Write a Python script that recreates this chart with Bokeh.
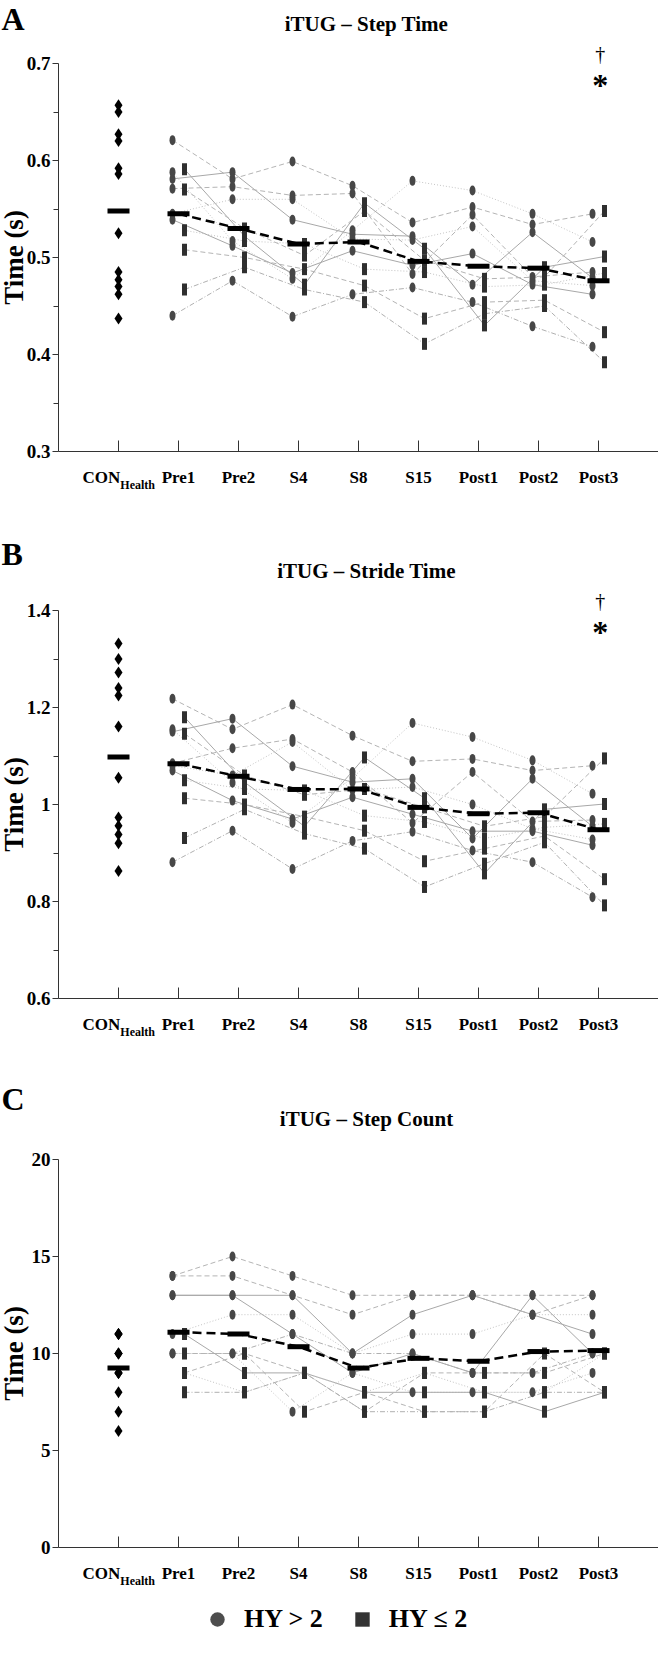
import math
from bokeh.plotting import figure
from bokeh.layouts import column
from bokeh.models import Range1d, FixedTicker, Label, Legend, LegendItem, LinearAxis
from bokeh.embed import file_html
from bokeh.resources import INLINE

# ---------------- data ----------------
categories = ["CON", "Pre1", "Pre2", "S4", "S8", "S15", "Post1", "Post2", "Post3"]
con_subscript = "Health"
legend_labels = ["HY > 2", "HY ≤ 2"]

# Panel A - step time (s)
step_con = [0.657, 0.650, 0.627, 0.620, 0.592, 0.586, 0.525, 0.485, 0.477, 0.470, 0.462, 0.437]
step_con_mean = 0.548
step_means = [0.545, 0.530, 0.514, 0.516, 0.496, 0.491, 0.489, 0.476]
step_hy_gt2 = [
    [0.621, 0.581, 0.599, 0.574, 0.536, 0.552, 0.534, 0.545],
    [0.581, 0.588, 0.539, 0.524, 0.522, 0.472, 0.526, 0.479],
    [0.571, 0.573, 0.564, 0.566, 0.483, 0.544, 0.480, 0.485],
    [0.545, 0.560, 0.560, 0.519, 0.518, 0.532, 0.476, 0.471],
    [0.539, 0.512, 0.484, 0.507, 0.492, 0.504, 0.472, 0.462],
    [0.440, 0.476, 0.439, 0.462, 0.469, 0.454, 0.429, 0.408],
    [0.588, 0.517, 0.478, 0.528, 0.579, 0.569, 0.545, 0.516],
]
step_hy_le2 = [
    [0.591, 0.522, 0.472, 0.556, 0.509, 0.430, 0.490, 0.501],
    [0.570, 0.530, 0.502, 0.548, 0.497, 0.478, 0.480, 0.548],
    [0.528, 0.517, 0.514, 0.488, 0.485, 0.470, 0.472, 0.484],
    [0.508, 0.500, 0.488, 0.471, 0.437, 0.454, 0.456, 0.423],
    [0.467, 0.490, 0.467, 0.454, 0.411, 0.442, 0.450, 0.392],
]
step_yticks = [0.3, 0.4, 0.5, 0.6, 0.7]
step_ylabels = ["0.3", "0.4", "0.5", "0.6", "0.7"]
step_yminor = [0.35, 0.45, 0.55, 0.65]

# Panel B - stride time (s)
stride_con = [1.332, 1.300, 1.272, 1.240, 1.225, 1.161, 1.055, 0.973, 0.956, 0.938, 0.920, 0.863]
stride_con_mean = 1.098
stride_means = [1.084, 1.058, 1.031, 1.032, 0.994, 0.981, 0.983, 0.948]
stride_hy_gt2 = [
    [1.218, 1.155, 1.206, 1.142, 1.089, 1.094, 1.070, 1.080],
    [1.150, 1.177, 1.079, 1.046, 1.053, 0.930, 1.053, 0.955],
    [1.085, 1.116, 1.135, 1.067, 0.962, 1.067, 0.965, 0.968],
    [1.080, 1.060, 1.129, 1.030, 1.036, 1.000, 0.950, 0.928],
    [1.070, 1.008, 0.970, 1.015, 0.980, 0.945, 0.945, 0.916],
    [0.881, 0.946, 0.867, 0.925, 0.944, 0.905, 0.881, 0.809],
    [1.155, 1.045, 0.962, 1.055, 1.168, 1.139, 1.091, 1.022],
]
stride_hy_le2 = [
    [1.180, 1.046, 0.955, 1.097, 1.013, 0.858, 0.990, 1.001],
    [1.146, 1.060, 1.020, 1.032, 0.994, 0.955, 0.975, 1.095],
    [1.050, 1.032, 1.029, 0.977, 0.964, 0.930, 0.953, 0.960],
    [1.013, 1.000, 0.975, 0.946, 0.883, 0.909, 0.935, 0.846],
    [0.931, 0.990, 0.940, 0.909, 0.830, 0.878, 0.922, 0.792],
]
stride_yticks = [0.6, 0.8, 1.0, 1.2, 1.4]
stride_ylabels = ["0.6", "0.8", "1", "1.2", "1.4"]
stride_yminor = [0.7, 0.9, 1.1, 1.3]

# Panel C - step count
count_con = [11, 11, 11, 10, 10, 10, 9, 9, 9, 8, 7, 6]
count_con_mean = 9.25
count_means = [11.1, 11.0, 10.35, 9.25, 9.75, 9.6, 10.1, 10.15]
count_hy_gt2 = [
    [14, 15, 14, 13, 13, 13, 13, 13],
    [13, 13, 13, 10, 12, 13, 12, 11],
    [14, 14, 13, 12, 13, 13, 12, 13],
    [11, 12, 12, 10, 11, 11, 12, 12],
    [13, 13, 11, 9, 10, 9, 13, 10],
    [10, 10, 11, 10, 10, 9, 9, 10],
    [10, 10, 7, 9, 8, 8, 8, 9],
]
count_hy_le2 = [
    [11, 9, 9, 8, 8, 8, 7, 8],
    [10, 10, 9, 7, 9, 9, 9, 10],
    [9, 8, 9, 8, 9, 8, 8, 10],
    [9, 10, 7, 8, 7, 7, 10, 8],
    [8, 8, 9, 7, 7, 7, 8, 8],
]
count_yticks = [0, 5, 10, 15, 20]
count_ylabels = ["0", "5", "10", "15", "20"]
count_yminor = []

# ---------------- styling / layout ----------------
FONT = "Liberation Serif"
FIG_W = 658          # page x 8 .. 666
PAGE_LEFT = 8
AXIS_X0 = 66         # page x of category position 0
PX_PER_CAT = 60
FRAME_H = 388
AXIS_COLOR = "#333333"
LINE_STYLE = {
    "solid": dict(line_color="#a8a8a8", line_dash="solid"),
    "dashed": dict(line_color="#b4b4b4", line_dash="5 3"),
    "dotted": dict(line_color="#c4c4c4", line_dash="1 2"),
    "dashdot": dict(line_color="#b0b0b0", line_dash="5 2 1 2"),
}
GT2_STYLES = ["dashed", "solid", "dashed", "dotted", "solid", "dashdot", "dotted"]
LE2_STYLES = ["solid", "dashed", "dotted", "dashed", "dashdot"]
CIRCLE_COLOR = "#474747"
SQUARE_COLOR = "#2f2f2f"


def build_panel(letter, title, con, con_mean, hy_gt2, hy_le2, means, ylim,
                yticks, ylabels, yminor, fig_top, fig_h, axis_top, letter_y,
                title_y, sig=False, legend=False):
    ppx = (ylim[1] - ylim[0]) / FRAME_H
    axis_bot = axis_top + FRAME_H

    def py(page_y):
        return ylim[1] - (page_y - axis_top) * ppx

    def px(page_x):
        return (page_x - AXIS_X0) / PX_PER_CAT

    p = figure(width=FIG_W, height=fig_h,
               x_range=Range1d(px(PAGE_LEFT), px(PAGE_LEFT + FIG_W)),
               y_range=Range1d(py(fig_top + fig_h), py(fig_top)),
               output_backend="svg", toolbar_location=None,
               x_axis_location=None, y_axis_location=None, min_border=0,
               min_border_left=0, min_border_right=0, min_border_top=0,
               min_border_bottom=0)
    p.outline_line_color = None
    p.grid.visible = False

    cat_x = list(range(1, len(categories) + 1))
    tpos = cat_x[1:]

    # individual patient trajectories
    for row, st in zip(hy_gt2, GT2_STYLES):
        p.line([t - 0.1 for t in tpos], row, line_width=1, **LINE_STYLE[st])
    for row, st in zip(hy_le2, LE2_STYLES):
        p.line([t + 0.1 for t in tpos], row, line_width=1, **LINE_STYLE[st])

    # markers
    cx, cy = [], []
    for row in hy_gt2:
        cx += [t - 0.1 for t in tpos]
        cy += row
    sx, sy = [], []
    for row in hy_le2:
        sx += [t + 0.1 for t in tpos]
        sy += row
    p.ellipse(x=cx, y=cy, width=6, height=10, width_units="screen",
              height_units="screen", fill_color=CIRCLE_COLOR, line_color=None)
    p.rect(x=sx, y=sy, width=5, height=12, width_units="screen",
           height_units="screen", fill_color=SQUARE_COLOR, line_color=None)
    p.scatter(x=[cat_x[0]] * len(con), y=con, marker="diamond", size=12,
              fill_color="black", line_color=None)

    # means
    p.line(tpos, means, line_color="black", line_width=2.5, line_dash="9 5")
    p.rect(x=cat_x, y=[con_mean] + means, width=22, height=5,
           width_units="screen", height_units="screen", fill_color="black",
           line_color=None)

    # axes (drawn at fixed data locations inside the canvas)
    xa = LinearAxis(fixed_location=ylim[0], bounds=(0, 10),
                    ticker=FixedTicker(ticks=list(range(1, 11))))
    overrides = {1: ""}
    for i, c in enumerate(categories[1:], start=2):
        overrides[i] = c
    overrides[10] = ""
    xa.major_label_overrides = overrides
    xa.major_tick_in = 11
    xa.major_tick_out = 0
    xa.minor_tick_line_color = None
    xa.major_label_standoff = 16
    xa.major_label_text_font = FONT
    xa.major_label_text_font_style = "bold"
    xa.major_label_text_font_size = "17px"
    xa.major_label_text_color = "black"
    xa.axis_line_color = AXIS_COLOR
    xa.major_tick_line_color = AXIS_COLOR
    p.add_layout(xa, "below")

    ya = LinearAxis(fixed_location=0, bounds=(ylim[0], ylim[1]),
                    ticker=FixedTicker(ticks=yticks, minor_ticks=yminor))
    ya.major_label_overrides = dict(zip(yticks, ylabels))
    ya.major_tick_out = 6
    ya.major_tick_in = 0
    ya.minor_tick_out = 5
    ya.minor_tick_in = 0
    ya.major_label_standoff = 2
    ya.major_label_text_font = FONT
    ya.major_label_text_font_style = "bold"
    ya.major_label_text_font_size = "19px"
    ya.major_label_text_color = "black"
    ya.axis_line_color = AXIS_COLOR
    ya.major_tick_line_color = AXIS_COLOR
    ya.minor_tick_line_color = AXIS_COLOR
    p.add_layout(ya, "left")

    # texts
    p.add_layout(Label(x=px(PAGE_LEFT + 1), y=py(letter_y), text=letter,
                       text_align="left", text_baseline="middle",
                       text_font=FONT, text_font_style="bold",
                       text_font_size="32px", text_color="black"))
    p.add_layout(Label(x=px(374), y=py(title_y), text=title,
                       text_align="center", text_baseline="middle",
                       text_font=FONT, text_font_style="bold",
                       text_font_size="21px", text_color="black"))
    p.add_layout(Label(x=px(21), y=(ylim[0] + ylim[1]) / 2, text="Time (s)",
                       angle=math.pi / 2, text_align="center",
                       text_baseline="middle", text_font=FONT,
                       text_font_style="bold", text_font_size="27px",
                       text_color="black"))
    p.add_layout(Label(x=1.03, y=py(axis_bot + 26), text=categories[0],
                       text_align="right", text_baseline="middle",
                       text_font=FONT, text_font_style="bold",
                       text_font_size="17px", text_color="black"))
    p.add_layout(Label(x=1.03, y=py(axis_bot + 33), text=con_subscript,
                       text_align="left", text_baseline="middle",
                       text_font=FONT, text_font_style="bold",
                       text_font_size="12px", text_color="black"))
    if sig:
        p.add_layout(Label(x=9.03, y=py(axis_top - 10), text="†",
                           text_align="center", text_baseline="middle",
                           text_font=FONT, text_font_size="20px",
                           text_color="black"))
        p.add_layout(Label(x=9.03, y=py(axis_top + 21), text="*",
                           text_align="center", text_baseline="middle",
                           text_font=FONT, text_font_style="bold",
                           text_font_size="32px", text_color="black"))
    if legend:
        # hidden renderers carrying the same points, used only for the key
        r1 = p.scatter(x=cx, y=cy, marker="circle", size=15,
                       fill_color="#4d4d4d", line_color=None, visible=False)
        r2 = p.scatter(x=sx, y=sy, marker="square", size=15,
                       fill_color="#333333", line_color=None, visible=False)
        lg = Legend(items=[LegendItem(label=legend_labels[0], renderers=[r1]),
                           LegendItem(label=legend_labels[1], renderers=[r2])],
                    orientation="horizontal", location=(199, 1),
                    glyph_width=36, glyph_height=36, label_standoff=9,
                    spacing=21, padding=0, margin=0,
                    border_line_color=None, background_fill_alpha=0,
                    inactive_fill_alpha=0,
                    label_text_font=FONT, label_text_font_style="bold",
                    label_text_font_size="26px", label_text_color="black")
        p.add_layout(lg)
    return p


pA = build_panel("A", "iTUG – Step Time", step_con, step_con_mean, step_hy_gt2,
                 step_hy_le2, step_means, (0.3, 0.7), step_yticks, step_ylabels,
                 step_yminor, 8, 492, 71, 26, 31, sig=True)
pB = build_panel("B", "iTUG – Stride Time", stride_con, stride_con_mean,
                 stride_hy_gt2, stride_hy_le2, stride_means, (0.6, 1.4),
                 stride_yticks, stride_ylabels, stride_yminor, 500, 550, 618,
                 561, 578, sig=True)
pC = build_panel("C", "iTUG – Step Count", count_con, count_con_mean,
                 count_hy_gt2, count_hy_le2, count_means, (0, 20), count_yticks,
                 count_ylabels, count_yminor, 1050, 596, 1167, 1106, 1126,
                 legend=True)

layout = column(pA, pB, pC, spacing=0)
open("out.html", "w").write(file_html(layout, INLINE))
